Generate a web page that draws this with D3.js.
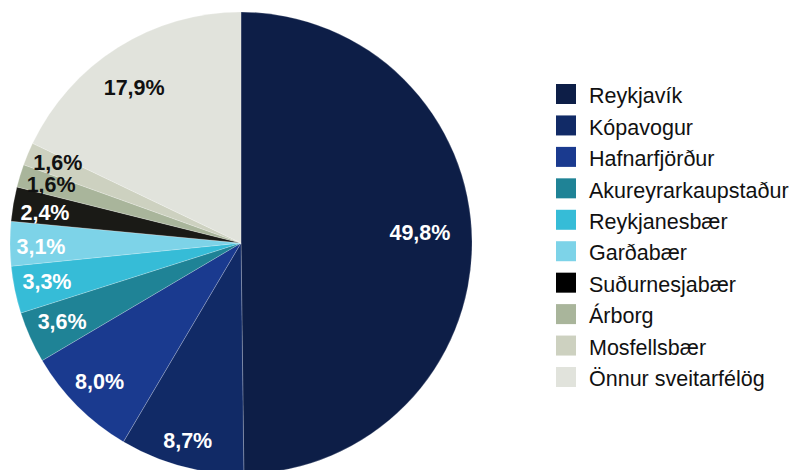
<!DOCTYPE html>
<html>
<head>
<meta charset="utf-8">
<script src="https://cdn.jsdelivr.net/npm/d3@7"></script>
<style>
  html, body { margin: 0; padding: 0; background: #fff; }
  svg { display: block; }
</style>
</head>
<body>
<svg id="chart" width="790" height="470"></svg>
<script>
const categories = ["Reykjavík", "Kópavogur", "Hafnarfjörður", "Akureyrarkaupstaður", "Reykjanesbær", "Garðabær", "Suðurnesjabær", "Árborg", "Mosfellsbær", "Önnur sveitarfélög"];
const values = [49.8, 8.7, 8.0, 3.6, 3.3, 3.1, 2.4, 1.6, 1.6, 17.9];
const labels = ["49,8%", "8,7%", "8,0%", "3,6%", "3,3%", "3,1%", "2,4%", "1,6%", "1,6%", "17,9%"];

const colors = ["#0d1e47", "#112a66", "#1a3a8f", "#1f8396", "#36bcd7", "#7dd3e8", "#1a1a16", "#a9b59b", "#cdd1c0", "#e1e3dc"];
const legendColors = ["#0d1e47", "#112a66", "#1a3a8f", "#1f8396", "#36bcd7", "#7dd3e8", "#000000", "#a9b59b", "#cdd1c0", "#e1e3dc"];
const labelColors = ["#fff", "#fff", "#fff", "#fff", "#fff", "#fff", "#fff", "#111", "#111", "#111"];
// label placement: fraction of radius and angle shift (degrees) from slice middle
const labelRadiusFactor = [0.776, 0.883, 0.857, 0.845, 0.856, 0.866, 0.859, 0.861, 0.866, 0.818];
const labelAngleShift = [-3.1, 0.2, 0.6, 0.5, 0.6, -0.7, -0.8, 0.4, 1.0, -2.2];

const svg = d3.select("#chart");
const cx = 241, cy = 243, R = 231;
const font = "'Liberation Sans', Arial, sans-serif";

const pie = d3.pie().sort(null).value(d => d);
const arcs = pie(values);
const arc = d3.arc().innerRadius(0).outerRadius(R);

const g = svg.append("g").attr("transform", `translate(${cx},${cy})`);
g.selectAll("path.slice")
  .data(arcs)
  .enter().append("path")
  .attr("class", "slice")
  .attr("d", arc)
  .attr("fill", (d, i) => colors[i])
  .attr("stroke", "rgba(255,255,255,0.35)")
  .attr("stroke-width", 0.6);

g.selectAll("text.lbl")
  .data(arcs)
  .enter().append("text")
  .attr("class", "lbl")
  .attr("transform", (d, i) => {
    const a = (d.startAngle + d.endAngle) / 2 + labelAngleShift[i] * Math.PI / 180;
    const r = R * labelRadiusFactor[i];
    return `translate(${r * Math.sin(a)},${-r * Math.cos(a)})`;
  })
  .attr("text-anchor", "middle")
  .attr("dy", "0.36em")
  .attr("font-family", font)
  .attr("font-weight", "bold")
  .attr("font-size", 21.5)
  .attr("fill", (d, i) => labelColors[i])
  .text((d, i) => labels[i]);

const legendY = d3.scalePoint().domain(categories).range([94, 377]);
const lg = svg.append("g");
const items = lg.selectAll("g.item").data(categories).enter().append("g")
  .attr("class", "item")
  .attr("transform", d => `translate(556,${legendY(d)})`);
items.append("rect")
  .attr("x", 0).attr("y", -10).attr("width", 20).attr("height", 20)
  .attr("fill", (d, i) => legendColors[i]);
items.append("text")
  .attr("x", 33).attr("y", 1.5).attr("dy", "0.36em")
  .attr("font-family", font)
  .attr("font-size", 21.5)
  .attr("fill", "#111")
  .text(d => d);
</script>
</body>
</html>
